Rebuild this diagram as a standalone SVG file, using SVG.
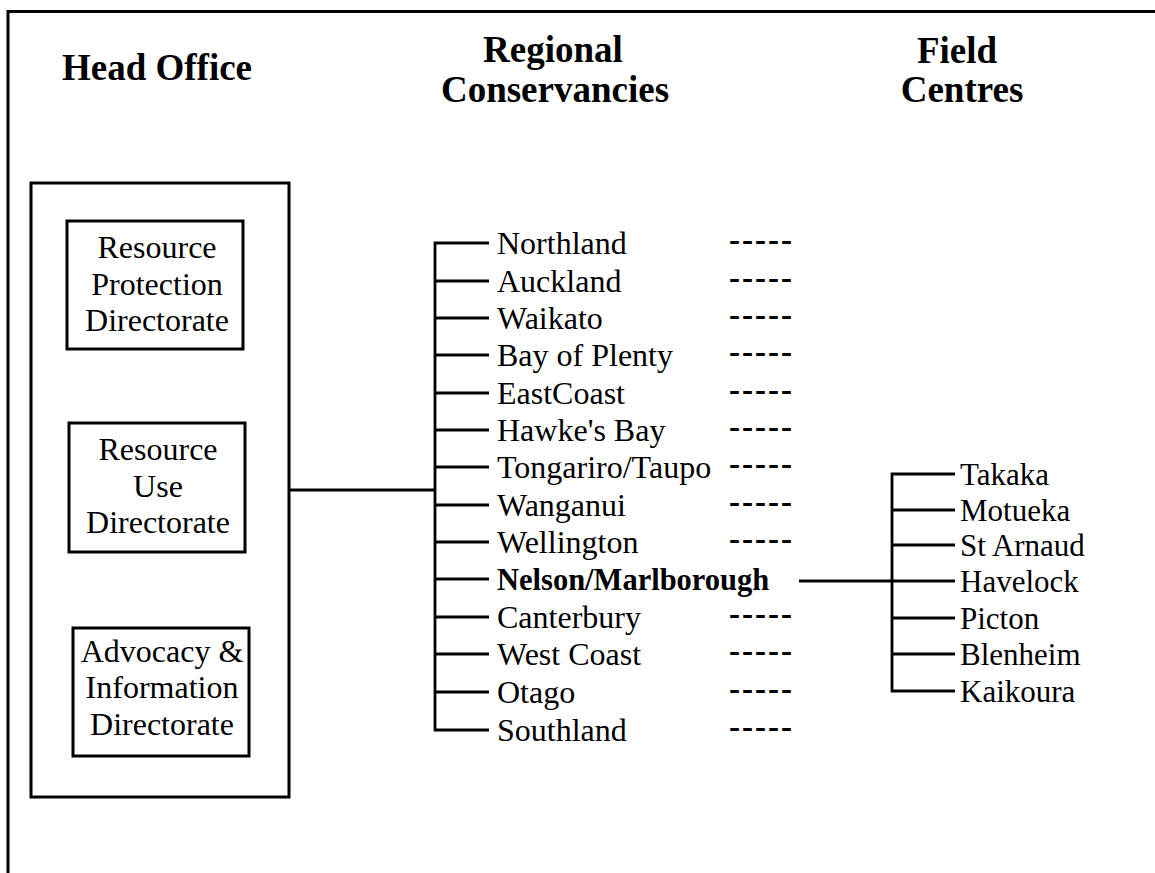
<svg xmlns="http://www.w3.org/2000/svg" width="1155" height="873" viewBox="0 0 1155 873">
  <style>
    .ln { stroke: #000; stroke-width: 2.8; fill: none; }
    .box { stroke: #000; stroke-width: 3; fill: none; }
    .hd { font-family: "Liberation Serif", "Times New Roman", serif; font-weight: bold; font-size: 37px; fill: #000; text-anchor: middle; }
    .tx { font-family: "Liberation Serif", "Times New Roman", serif; font-size: 32px; fill: #000; }
    .fc { font-family: "Liberation Serif", "Times New Roman", serif; font-size: 31px; fill: #000; }
    .bx { font-family: "Liberation Serif", "Times New Roman", serif; font-size: 32px; fill: #000; text-anchor: middle; }
    .nb { font-family: "Liberation Serif", "Times New Roman", serif; font-weight: bold; font-size: 30.5px; fill: #000; }
    .dash { font-family: "Liberation Serif", "Times New Roman", serif; font-weight: bold; font-size: 33px; fill: #000; }
  </style>
  <rect width="1155" height="873" fill="#fff"/>

  <!-- page frame: top rule and left rule only -->
  <g id="frame">
    <line class="box" x1="8" y1="11.5" x2="1155" y2="11.5"/>
    <line class="box" x1="8" y1="10" x2="8" y2="873"/>
  </g>

  <!-- column headings -->
  <g id="headings">
    <text class="hd" x="157" y="80">Head Office</text>
    <text class="hd" x="553" y="62">Regional</text>
    <text class="hd" x="555" y="102">Conservancies</text>
    <text class="hd" x="957" y="63">Field</text>
    <text class="hd" x="962" y="102">Centres</text>
  </g>

  <!-- head office container -->
  <g id="head-office">
    <rect class="box" x="31" y="183" width="258" height="614"/>
  </g>
  <g id="resource-protection">
    <rect class="box" x="67" y="221" width="176" height="128"/>
    <text class="bx" x="157" y="258">Resource</text>
    <text class="bx" x="157" y="295">Protection</text>
    <text class="bx" x="157" y="331">Directorate</text>
  </g>
  <g id="resource-use">
    <rect class="box" x="69" y="423" width="176" height="129"/>
    <text class="bx" x="158" y="460">Resource</text>
    <text class="bx" x="158" y="497">Use</text>
    <text class="bx" x="158" y="533">Directorate</text>
  </g>
  <g id="advocacy">
    <rect class="box" x="73" y="628" width="176" height="128"/>
    <text class="bx" x="162" y="662">Advocacy &amp;</text>
    <text class="bx" x="162" y="698">Information</text>
    <text class="bx" x="162" y="735">Directorate</text>
  </g>

  <!-- connectors -->
  <g id="connectors">
    <line class="ln" x1="289" y1="490" x2="435" y2="490"/>
    <line class="ln" x1="435" y1="242" x2="435" y2="731"/>
    <line class="ln" x1="434" y1="243" x2="489" y2="243"/>
    <line class="ln" x1="435" y1="281" x2="489" y2="281"/>
    <line class="ln" x1="435" y1="318" x2="489" y2="318"/>
    <line class="ln" x1="435" y1="355" x2="489" y2="355"/>
    <line class="ln" x1="435" y1="393" x2="489" y2="393"/>
    <line class="ln" x1="435" y1="430" x2="489" y2="430"/>
    <line class="ln" x1="435" y1="467" x2="489" y2="467"/>
    <line class="ln" x1="435" y1="505" x2="489" y2="505"/>
    <line class="ln" x1="435" y1="542" x2="489" y2="542"/>
    <line class="ln" x1="435" y1="579" x2="489" y2="579"/>
    <line class="ln" x1="435" y1="617" x2="489" y2="617"/>
    <line class="ln" x1="435" y1="654" x2="489" y2="654"/>
    <line class="ln" x1="435" y1="692" x2="489" y2="692"/>
    <line class="ln" x1="434" y1="730" x2="489" y2="730"/>

    <line class="ln" x1="799" y1="581" x2="892" y2="581"/>
    <line class="ln" x1="892" y1="473" x2="892" y2="692"/>
    <line class="ln" x1="891" y1="474" x2="955" y2="474"/>
    <line class="ln" x1="892" y1="510" x2="955" y2="510"/>
    <line class="ln" x1="892" y1="545" x2="955" y2="545"/>
    <line class="ln" x1="892" y1="581" x2="955" y2="581"/>
    <line class="ln" x1="892" y1="618" x2="955" y2="618"/>
    <line class="ln" x1="892" y1="654" x2="955" y2="654"/>
    <line class="ln" x1="891" y1="691" x2="955" y2="691"/>
  </g>

  <!-- regional conservancies -->
  <g id="conservancies">
    <text class="tx" x="497" y="254">Northland</text>
    <text class="tx" x="497" y="292">Auckland</text>
    <text class="tx" x="497" y="329">Waikato</text>
    <text class="tx" x="497" y="366">Bay of Plenty</text>
    <text class="tx" x="497" y="404">EastCoast</text>
    <text class="tx" x="497" y="441">Hawke's Bay</text>
    <text class="tx" x="497" y="478">Tongariro/Taupo</text>
    <text class="tx" x="497" y="516">Wanganui</text>
    <text class="tx" x="497" y="553">Wellington</text>
    <text class="nb" x="497" y="590">Nelson/Marlborough</text>
    <text class="tx" x="497" y="628">Canterbury</text>
    <text class="tx" x="497" y="665">West Coast</text>
    <text class="tx" x="497" y="703">Otago</text>
    <text class="tx" x="497" y="741">Southland</text>
  </g>

  <!-- placeholder dashes for field centres not shown -->
  <g id="dashes">
    <text class="dash" x="729" y="251" textLength="63" lengthAdjust="spacing">-----</text>
    <text class="dash" x="729" y="289" textLength="63" lengthAdjust="spacing">-----</text>
    <text class="dash" x="729" y="326" textLength="63" lengthAdjust="spacing">-----</text>
    <text class="dash" x="729" y="363" textLength="63" lengthAdjust="spacing">-----</text>
    <text class="dash" x="729" y="401" textLength="63" lengthAdjust="spacing">-----</text>
    <text class="dash" x="729" y="438" textLength="63" lengthAdjust="spacing">-----</text>
    <text class="dash" x="729" y="475" textLength="63" lengthAdjust="spacing">-----</text>
    <text class="dash" x="729" y="513" textLength="63" lengthAdjust="spacing">-----</text>
    <text class="dash" x="729" y="550" textLength="63" lengthAdjust="spacing">-----</text>
    <text class="dash" x="729" y="625" textLength="63" lengthAdjust="spacing">-----</text>
    <text class="dash" x="729" y="662" textLength="63" lengthAdjust="spacing">-----</text>
    <text class="dash" x="729" y="700" textLength="63" lengthAdjust="spacing">-----</text>
    <text class="dash" x="729" y="738" textLength="63" lengthAdjust="spacing">-----</text>
  </g>

  <!-- field centres -->
  <g id="field-centres">
    <text class="fc" x="960" y="485">Takaka</text>
    <text class="fc" x="960" y="521">Motueka</text>
    <text class="fc" x="960" y="556">St Arnaud</text>
    <text class="fc" x="960" y="592">Havelock</text>
    <text class="fc" x="960" y="629">Picton</text>
    <text class="fc" x="960" y="665">Blenheim</text>
    <text class="fc" x="960" y="702">Kaikoura</text>
  </g>
</svg>
